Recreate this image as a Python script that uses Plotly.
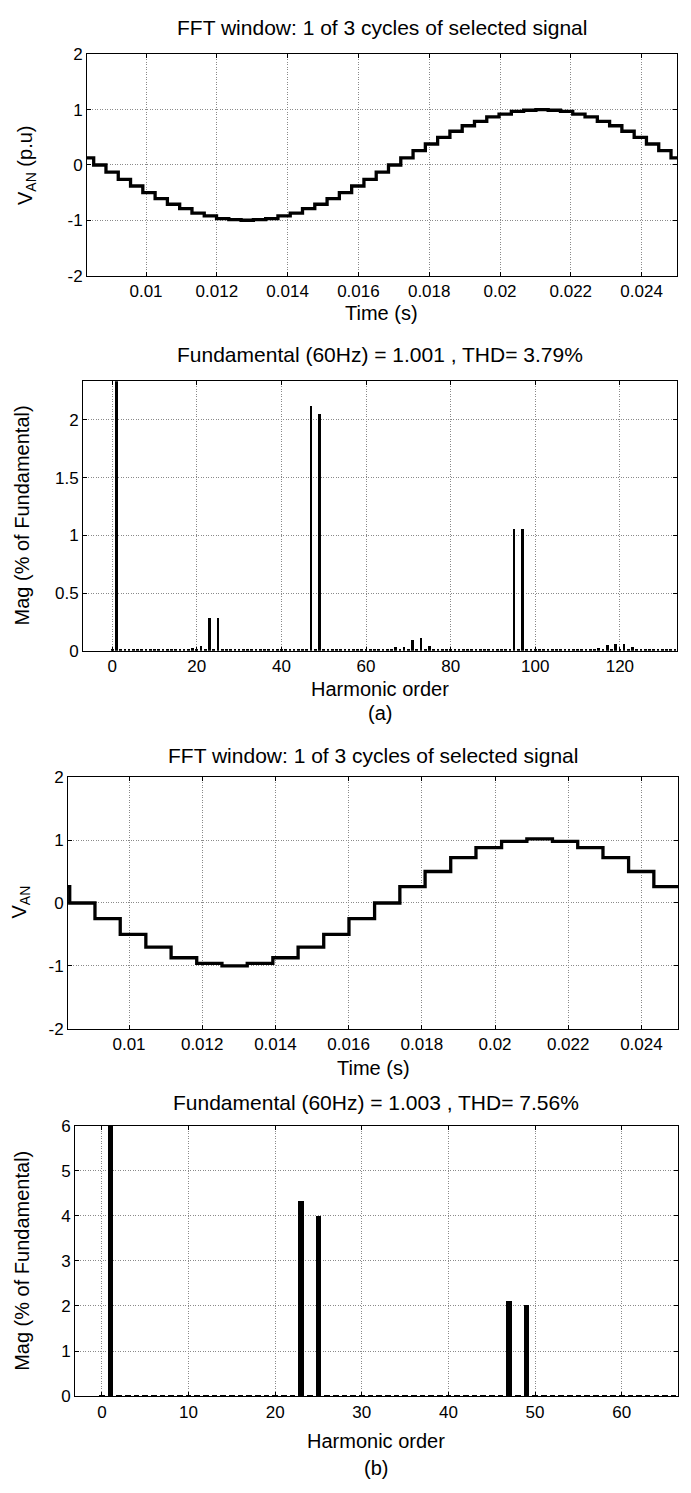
import plotly.graph_objects as go

W, H = 691, 1493

# ---------------- data ----------------
time_a = [0.00833, 0.008522, 0.008869, 0.009216, 0.009563, 0.009910, 0.010257, 0.010604,
          0.010951, 0.011298, 0.011645, 0.011992, 0.012339, 0.012686, 0.013033, 0.013380,
          0.013727, 0.014074, 0.014421, 0.014768, 0.015115, 0.015462, 0.015809, 0.016156,
          0.016503, 0.016850, 0.017197, 0.017544, 0.017891, 0.018238, 0.018585, 0.018932,
          0.019279, 0.019626, 0.019973, 0.020320, 0.020667, 0.021014, 0.021361, 0.021708,
          0.022055, 0.022402, 0.022749, 0.023096, 0.023443, 0.023790, 0.024137, 0.024484,
          0.024831, 0.025]
volt_a = [0.13, 0.0, -0.13, -0.26, -0.38, -0.5, -0.61, -0.71, -0.79, -0.87, -0.92, -0.97,
          -0.99, -1.0, -0.99, -0.97, -0.92, -0.87, -0.79, -0.71, -0.61, -0.5, -0.38, -0.26,
          -0.13, 0.0, 0.13, 0.26, 0.38, 0.5, 0.61, 0.71, 0.79, 0.87, 0.92, 0.97,
          0.99, 1.0, 0.99, 0.97, 0.92, 0.87, 0.79, 0.71, 0.61, 0.5, 0.38, 0.26,
          0.13, 0.13]

time_b = [0.00833, 0.00838, 0.00907, 0.00976, 0.01046, 0.01115, 0.01185, 0.01254, 0.01323,
          0.01393, 0.01462, 0.01532, 0.01601, 0.01671, 0.01740, 0.01809, 0.01879, 0.01948,
          0.02018, 0.02087, 0.02157, 0.02226, 0.02295, 0.02365, 0.02434, 0.025]
volt_b = [0.26, 0.0, -0.25, -0.5, -0.7, -0.87, -0.96, -1.0, -0.96, -0.87, -0.7, -0.5, -0.25,
          0.0, 0.26, 0.5, 0.72, 0.88, 0.98, 1.02, 0.98, 0.88, 0.72, 0.5, 0.26, 0.26]

harm_a = list(range(134))
mag_a = [0.01, 100, 0.01, 0.01, 0.01, 0.01, 0.01, 0.01, 0.01, 0.01,
         0.01, 0.01, 0.01, 0.01, 0.01, 0.01, 0.01, 0.01, 0.01, 0.02,
         0.01, 0.04, 0.01, 0.28, 0.01, 0.28, 0.01, 0.01, 0.01, 0.01,
         0.01, 0.01, 0.01, 0.01, 0.01, 0.01, 0.01, 0.01, 0.01, 0.01,
         0.01, 0.01, 0.01, 0.01, 0.01, 0.01, 0.01, 2.12, 0.01, 2.05,
         0.01, 0.01, 0.01, 0.01, 0.01, 0.01, 0.01, 0.01, 0.01, 0.01,
         0.01, 0.01, 0.01, 0.01, 0.01, 0.01, 0.01, 0.03, 0.01, 0.03,
         0.01, 0.09, 0.01, 0.11, 0.01, 0.04, 0.01, 0.01, 0.01, 0.01,
         0.01, 0.01, 0.01, 0.01, 0.01, 0.01, 0.01, 0.01, 0.01, 0.01,
         0.01, 0.01, 0.01, 0.01, 0.01, 1.05, 0.01, 1.05, 0.01, 0.01,
         0.01, 0.01, 0.01, 0.01, 0.01, 0.01, 0.01, 0.01, 0.01, 0.01,
         0.01, 0.01, 0.01, 0.01, 0.01, 0.02, 0.01, 0.05, 0.01, 0.06,
         0.01, 0.06, 0.01, 0.03, 0.01, 0.01, 0.01, 0.01, 0.01, 0.01,
         0.01, 0.01, 0.01, 0.01]

harm_b = list(range(67))
mag_b = [0.03, 100, 0.03, 0.03, 0.03, 0.03, 0.03, 0.03, 0.03, 0.03,
         0.03, 0.03, 0.03, 0.03, 0.03, 0.03, 0.03, 0.03, 0.03, 0.03,
         0.03, 0.03, 0.03, 4.34, 0.03, 4.0, 0.03, 0.03, 0.03, 0.03,
         0.03, 0.03, 0.03, 0.03, 0.03, 0.03, 0.03, 0.03, 0.03, 0.03,
         0.03, 0.03, 0.03, 0.03, 0.03, 0.03, 0.03, 2.12, 0.03, 2.03,
         0.03, 0.03, 0.03, 0.03, 0.03, 0.03, 0.03, 0.03, 0.03, 0.03,
         0.03, 0.03, 0.03, 0.03, 0.03, 0.03, 0.03]

time_ticks = [0.01, 0.012, 0.014, 0.016, 0.018, 0.02, 0.022, 0.024]
time_tick_text = ["0.01", "0.012", "0.014", "0.016", "0.018", "0.02", "0.022", "0.024"]
volt_ticks = [-2, -1, 0, 1, 2]
volt_tick_text = ["-2", "-1", "0", "1", "2"]
harm_a_ticks = [0, 20, 40, 60, 80, 100, 120]
mag_a_ticks = [0, 0.5, 1, 1.5, 2]
mag_a_tick_text = ["0", "0.5", "1", "1.5", "2"]
harm_b_ticks = [0, 10, 20, 30, 40, 50, 60]
mag_b_ticks = [0, 1, 2, 3, 4, 5, 6]

title_a1 = "FFT window: 1 of 3 cycles of selected signal"
title_a2 = "Fundamental (60Hz) = 1.001 , THD= 3.79%"
title_b1 = "FFT window: 1 of 3 cycles of selected signal"
title_b2 = "Fundamental (60Hz) = 1.003 , THD= 7.56%"

# ---------------- layout helpers ----------------
FONT = "Liberation Sans, Arial, Helvetica, sans-serif"
boxes = {1: (87, 677, 46, 270), 2: (83, 677, 377, 650),
         3: (68, 678, 778, 1033), 4: (75, 678, 1131, 1405)}


def dom(i):
    l, r, t, b = boxes[i]
    return [l / W, r / W], [1 - b / H, 1 - t / H]


def axis_style(**kw):
    d = dict(showline=True, linecolor="black", linewidth=1, mirror="ticks",
             ticks="inside", ticklen=4, tickcolor="black", tickwidth=1,
             showgrid=True, gridcolor="#8a8a8a", griddash="1px,1.5px", gridwidth=1,
             zeroline=False, tickfont=dict(family=FONT, size=17, color="black"))
    d.update(kw)
    return d


fig = go.Figure()

fig.add_trace(go.Scatter(x=time_a, y=volt_a, mode="lines", line=dict(color="black", width=3.3, shape="hv"),
                         xaxis="x", yaxis="y", showlegend=False))
fig.add_trace(go.Bar(x=harm_a, y=mag_a, width=0.64, marker=dict(color="black", line=dict(width=0)),
                     xaxis="x2", yaxis="y2", showlegend=False))
fig.add_trace(go.Scatter(x=time_b, y=volt_b, mode="lines", line=dict(color="black", width=3.3, shape="hv"),
                         xaxis="x3", yaxis="y3", showlegend=False))
fig.add_trace(go.Bar(x=harm_b, y=mag_b, width=0.65, marker=dict(color="black", line=dict(width=0)),
                     xaxis="x4", yaxis="y4", showlegend=False))

dx1, dy1 = dom(1)
dx2, dy2 = dom(2)
dx3, dy3 = dom(3)
dx4, dy4 = dom(4)

fig.update_layout(
    width=W, height=H, margin=dict(l=0, r=0, t=0, b=0),
    paper_bgcolor="white", plot_bgcolor="white",
    font=dict(family=FONT, color="black"),
    xaxis=axis_style(domain=dx1, anchor="y", range=[0.008333, 0.025],
                     tickvals=time_ticks, ticktext=time_tick_text),
    yaxis=axis_style(domain=dy1, anchor="x", range=[-2, 2],
                     tickvals=volt_ticks, ticktext=volt_tick_text),
    xaxis2=axis_style(domain=dx2, anchor="y2", range=[-6.9, 133.5], tickvals=harm_a_ticks),
    yaxis2=axis_style(domain=dy2, anchor="x2", range=[0, 2.335],
                      tickvals=mag_a_ticks, ticktext=mag_a_tick_text),
    xaxis3=axis_style(domain=dx3, anchor="y3", range=[0.008333, 0.025],
                      tickvals=time_ticks, ticktext=time_tick_text),
    yaxis3=axis_style(domain=dy3, anchor="x3", range=[-2, 2],
                      tickvals=volt_ticks, ticktext=volt_tick_text),
    xaxis4=axis_style(domain=dx4, anchor="y4", range=[-3.1, 66.5], tickvals=harm_b_ticks),
    yaxis4=axis_style(domain=dy4, anchor="x4", range=[0, 6], tickvals=mag_b_ticks),
    bargap=0,
)


def ann(text, px, py, size, angle=0):
    fig.add_annotation(text=text, x=px / W, y=1 - py / H, xref="paper", yref="paper",
                       showarrow=False, xanchor="center", yanchor="middle", textangle=angle,
                       font=dict(family=FONT, size=size, color="black"))


TS, LS = 21, 20
ann(title_a1, 382, 19, TS)
ann("Time (s)", 382, 308, LS)
ann("V<sub>AN</sub> (p.u)", 27, 158, LS, -90)

ann(title_a2, 380, 350, TS)
ann("Harmonic order", 380, 689, LS)
ann("Mag (% of Fundamental)", 22, 513, LS, -90)
ann("(a)", 380, 713, LS)

ann(title_b1, 373, 756, TS)
ann("Time (s)", 373, 1073, LS)
ann("V<sub>AN</sub>", 20, 905, LS, -90)

ann(title_b2, 376, 1108, TS)
ann("Harmonic order", 376, 1450, LS)
ann("Mag (% of Fundamental)", 22, 1268, LS, -90)
ann("(b)", 376, 1478, LS)

fig.write_html("out.html")
